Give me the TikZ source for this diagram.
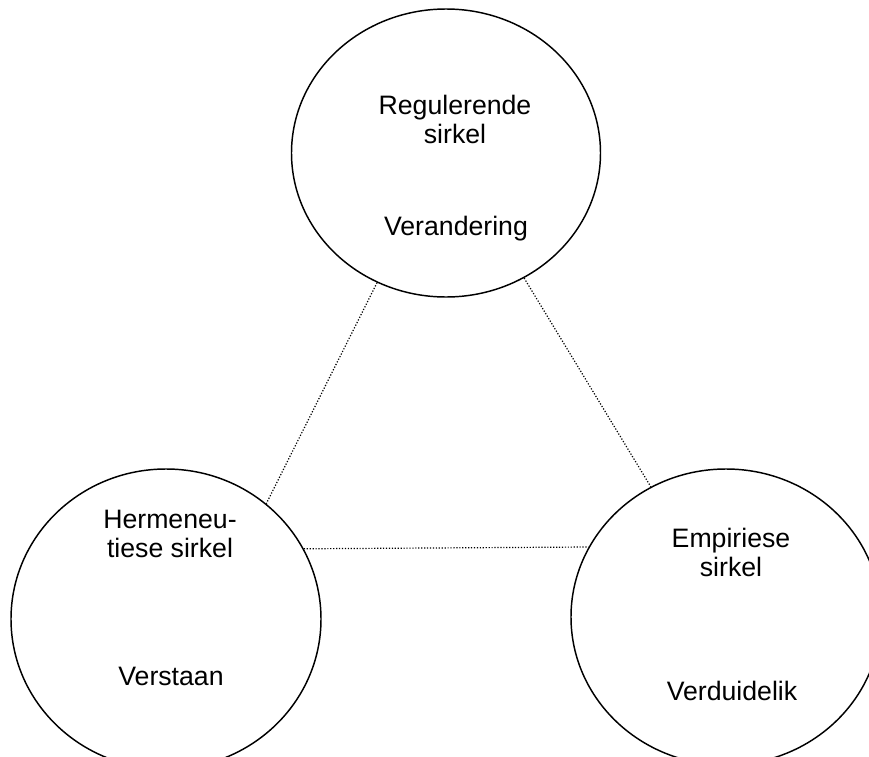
\documentclass[tikz,border=0pt]{standalone}
\usepackage{fontspec}
\setmainfont{Liberation Sans}
\usetikzlibrary{shapes.geometric}

\begin{document}
\begin{tikzpicture}[x=0.75pt,y=-0.75pt,
    sirkel/.style={draw, ellipse, line width=1.1pt, inner sep=0pt},
    tekst/.style={align=center, anchor=base, inner sep=0pt,
        font=\fontsize{20}{21.5}\selectfont},
    skakel/.style={line width=0.9pt, dash pattern=on 0.9pt off 1.3pt}]
    \clip (0,0) rectangle (869,757);
    % die drie sirkels
    \node[sirkel, minimum width=231.75pt, minimum height=216pt] (reg) at (446,153) {};
    \node[sirkel, minimum width=232.5pt, minimum height=225pt] (herm) at (166,619) {};
    \node[sirkel, minimum width=232.5pt, minimum height=222pt] (emp) at (726,617) {};
    % tekste (base = laaste reel)
    \node[tekst] (regnaam) at (455,143) {Regulerende\\sirkel};
    \node[tekst] (regdoel) at (456,235) {Verandering};
    \node[tekst] (hermnaam) at (170,557) {Hermeneu-\\tiese sirkel};
    \node[tekst] (hermdoel) at (171,685) {Verstaan};
    \node[tekst] (empnaam) at (731,576) {Empiriese\\sirkel};
    \node[tekst] (empdoel) at (732,700) {Verduidelik};
    % stippellyne
    \draw[skakel] (reg.242) -- (herm.49);
    \draw[skakel] (reg.302) -- (emp.120);
    \draw[skakel] (herm.27) -- (emp.153.7);
\end{tikzpicture}
\end{document}
